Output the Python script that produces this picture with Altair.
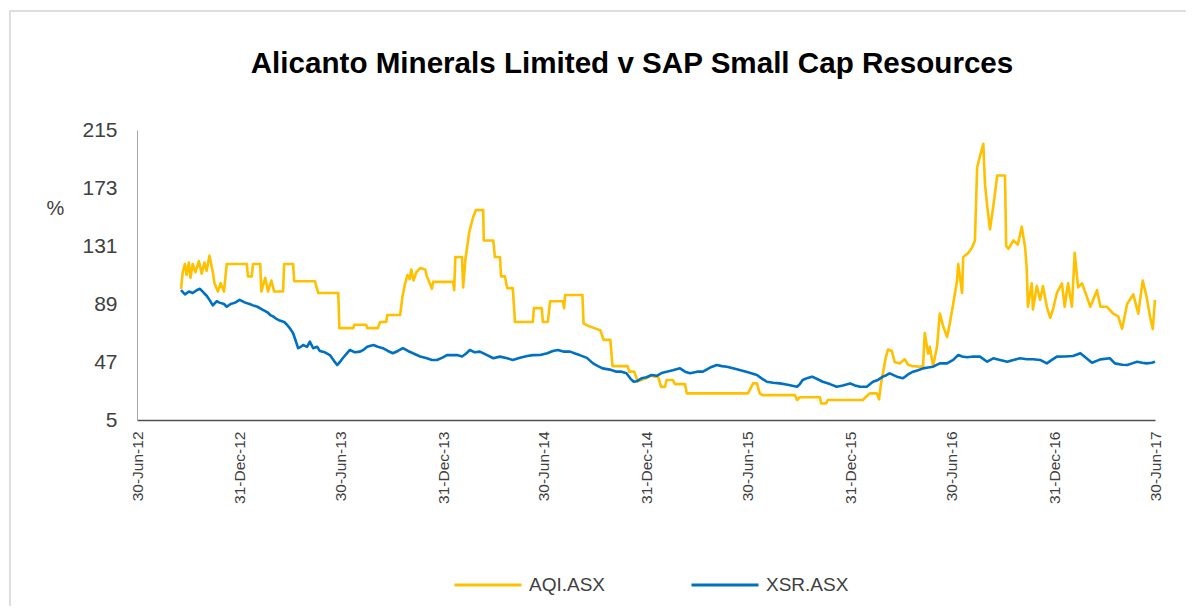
import altair as alt
import pandas as pd

title_text = "Alicanto Minerals Limited v SAP Small Cap Resources"
series_names = ["AQI.ASX", "XSR.ASX"]
series_colors = ["#FFC000", "#0070C0"]
y_ticks = [5, 47, 89, 131, 173, 215]
x_domain = ["2012-06-30", "2017-06-30"]
x_ticks = ["2012-06-30", "2012-12-31", "2013-06-30", "2013-12-31", "2014-06-30",
           "2014-12-31", "2015-06-30", "2015-12-31", "2016-06-30", "2016-12-31",
           "2017-06-30"]

aqi_points = [
    ("2012-09-17", 100), ("2012-09-20", 112), ("2012-09-24", 118), ("2012-09-27", 110),
    ("2012-10-01", 119), ("2012-10-04", 108), ("2012-10-08", 118), ("2012-10-13", 112),
    ("2012-10-19", 120), ("2012-10-24", 111), ("2012-10-29", 119), ("2012-11-02", 113),
    ("2012-11-07", 124), ("2012-11-13", 112), ("2012-11-16", 104), ("2012-11-22", 98),
    ("2012-11-27", 104), ("2012-12-03", 98), ("2012-12-08", 118),
    ("2013-01-13", 118), ("2013-01-15", 109), ("2013-01-22", 109), ("2013-01-24", 118),
    ("2013-02-06", 118), ("2013-02-08", 98), ("2013-02-15", 108), ("2013-02-20", 98),
    ("2013-02-26", 106), ("2013-03-03", 98), ("2013-03-19", 98), ("2013-03-21", 118),
    ("2013-04-06", 118), ("2013-04-08", 105.5), ("2013-05-15", 105.5), ("2013-05-21", 97),
    ("2013-06-26", 97), ("2013-06-28", 71.5), ("2013-07-23", 71.5), ("2013-07-25", 74),
    ("2013-08-15", 74), ("2013-08-17", 71.5), ("2013-09-05", 71.5), ("2013-09-09", 76),
    ("2013-09-20", 76), ("2013-09-22", 81), ("2013-10-15", 81), ("2013-10-19", 94),
    ("2013-10-24", 104), ("2013-10-28", 110), ("2013-11-01", 107), ("2013-11-04", 114),
    ("2013-11-08", 106), ("2013-11-13", 112), ("2013-11-20", 115), ("2013-11-29", 114),
    ("2013-12-02", 109), ("2013-12-11", 100), ("2013-12-13", 105),
    ("2014-01-18", 105), ("2014-01-20", 99), ("2014-01-22", 123), ("2014-02-03", 123),
    ("2014-02-05", 101), ("2014-02-09", 121), ("2014-02-16", 141), ("2014-02-23", 152),
    ("2014-02-28", 157), ("2014-03-13", 157), ("2014-03-14", 135), ("2014-03-31", 135),
    ("2014-04-03", 123), ("2014-04-12", 123), ("2014-04-14", 109), ("2014-04-21", 109),
    ("2014-04-25", 100.5), ("2014-05-05", 100.5), ("2014-05-09", 76), ("2014-06-10", 76),
    ("2014-06-12", 86), ("2014-06-26", 86), ("2014-06-28", 76), ("2014-07-07", 76),
    ("2014-07-11", 91), ("2014-08-03", 91), ("2014-08-05", 86), ("2014-08-07", 95.5),
    ("2014-09-07", 95.5), ("2014-09-09", 75), ("2014-09-18", 73), ("2014-10-02", 71),
    ("2014-10-09", 70), ("2014-10-15", 63), ("2014-10-27", 63), ("2014-10-31", 44),
    ("2014-11-27", 44), ("2014-11-30", 40), ("2014-12-09", 40), ("2014-12-15", 33),
    ("2014-12-29", 35),
    ("2015-01-07", 37), ("2015-01-21", 36), ("2015-01-26", 29), ("2015-02-02", 29),
    ("2015-02-05", 34), ("2015-02-16", 34), ("2015-02-20", 31), ("2015-03-10", 31),
    ("2015-03-13", 24.3), ("2015-07-01", 24.3), ("2015-07-10", 31.5), ("2015-07-17", 31.5),
    ("2015-07-22", 24.3), ("2015-07-27", 23), ("2015-09-23", 23), ("2015-09-27", 19.5),
    ("2015-10-02", 21.5), ("2015-11-07", 21.5), ("2015-11-09", 17), ("2015-11-18", 17),
    ("2015-11-21", 19.5),
    ("2016-01-23", 19.5), ("2016-01-29", 22), ("2016-02-05", 24.3), ("2016-02-17", 24.3),
    ("2016-02-21", 20), ("2016-02-24", 30), ("2016-02-28", 39), ("2016-03-04", 50),
    ("2016-03-08", 56), ("2016-03-15", 55), ("2016-03-20", 47), ("2016-03-29", 46),
    ("2016-04-07", 49), ("2016-04-13", 45), ("2016-04-22", 44), ("2016-05-04", 43.6),
    ("2016-05-10", 44), ("2016-05-13", 68), ("2016-05-19", 53), ("2016-05-22", 58),
    ("2016-05-28", 44), ("2016-06-04", 58), ("2016-06-09", 82), ("2016-06-15", 73),
    ("2016-06-22", 65), ("2016-06-27", 75), ("2016-07-03", 89), ("2016-07-10", 106),
    ("2016-07-12", 118), ("2016-07-19", 97), ("2016-07-21", 123), ("2016-07-30", 126),
    ("2016-08-06", 130), ("2016-08-11", 135), ("2016-08-15", 188), ("2016-08-20", 196),
    ("2016-08-26", 205), ("2016-08-29", 176), ("2016-09-02", 160), ("2016-09-07", 143),
    ("2016-09-13", 160), ("2016-09-20", 182), ("2016-10-04", 182), ("2016-10-06", 131),
    ("2016-10-10", 129), ("2016-10-19", 135), ("2016-10-27", 132), ("2016-11-03", 145),
    ("2016-11-09", 130), ("2016-11-12", 114), ("2016-11-14", 87), ("2016-11-21", 104),
    ("2016-11-23", 85), ("2016-11-30", 102), ("2016-12-06", 92), ("2016-12-11", 102),
    ("2016-12-18", 87), ("2016-12-24", 79), ("2016-12-29", 85),
    ("2017-01-05", 97), ("2017-01-14", 104), ("2017-01-19", 87), ("2017-01-25", 104),
    ("2017-02-01", 87), ("2017-02-06", 126), ("2017-02-12", 101), ("2017-02-19", 104),
    ("2017-02-28", 94), ("2017-03-06", 87), ("2017-03-18", 99), ("2017-03-24", 87),
    ("2017-04-05", 87), ("2017-04-16", 82), ("2017-04-25", 80), ("2017-05-02", 71),
    ("2017-05-11", 89), ("2017-05-22", 96), ("2017-05-31", 82), ("2017-06-08", 106),
    ("2017-06-15", 94), ("2017-06-21", 80), ("2017-06-26", 71), ("2017-06-30", 92),
]

xsr_points = [
    ("2012-09-17", 99), ("2012-09-24", 96), ("2012-10-01", 98), ("2012-10-08", 97),
    ("2012-10-15", 99), ("2012-10-21", 100), ("2012-10-28", 97), ("2012-11-02", 95),
    ("2012-11-07", 92), ("2012-11-13", 88), ("2012-11-20", 91), ("2012-11-25", 90),
    ("2012-12-03", 89), ("2012-12-08", 87), ("2012-12-15", 89), ("2012-12-23", 90),
    ("2012-12-31", 92),
    ("2013-01-10", 90), ("2013-01-18", 89), ("2013-01-24", 88), ("2013-02-01", 87),
    ("2013-02-10", 85), ("2013-02-19", 83), ("2013-02-24", 81), ("2013-03-01", 80),
    ("2013-03-08", 78), ("2013-03-13", 77), ("2013-03-21", 76), ("2013-03-26", 74),
    ("2013-04-01", 71), ("2013-04-06", 67.8), ("2013-04-11", 62), ("2013-04-15", 57),
    ("2013-04-20", 58), ("2013-04-24", 59.3), ("2013-05-01", 58), ("2013-05-06", 61.7),
    ("2013-05-12", 57), ("2013-05-19", 58), ("2013-05-24", 55), ("2013-06-02", 54),
    ("2013-06-11", 52), ("2013-06-18", 48), ("2013-06-24", 44.8), ("2013-06-29", 47),
    ("2013-07-04", 49.7), ("2013-07-11", 53), ("2013-07-17", 55.7), ("2013-07-26", 54),
    ("2013-08-04", 54.5), ("2013-08-11", 56), ("2013-08-17", 58), ("2013-08-28", 59.3),
    ("2013-09-05", 58), ("2013-09-14", 57), ("2013-09-23", 55), ("2013-10-02", 53.3),
    ("2013-10-11", 55), ("2013-10-20", 57), ("2013-10-29", 55), ("2013-11-07", 53.3),
    ("2013-11-20", 51), ("2013-12-02", 49.7), ("2013-12-11", 48.5), ("2013-12-20", 48.5),
    ("2013-12-29", 50),
    ("2014-01-07", 52), ("2014-01-16", 52), ("2014-01-25", 52), ("2014-02-03", 51),
    ("2014-02-10", 53), ("2014-02-17", 55.7), ("2014-02-26", 54), ("2014-03-07", 54.5),
    ("2014-03-20", 52), ("2014-03-31", 49.7), ("2014-04-12", 50.9), ("2014-04-25", 49.7),
    ("2014-05-05", 48.5), ("2014-05-18", 50), ("2014-05-31", 51.3), ("2014-06-10", 52),
    ("2014-06-23", 52.1), ("2014-07-06", 53.3), ("2014-07-16", 55), ("2014-07-25", 55.7),
    ("2014-08-05", 54.5), ("2014-08-16", 54.5), ("2014-08-26", 53), ("2014-09-02", 52),
    ("2014-09-15", 50), ("2014-09-26", 46), ("2014-10-05", 44), ("2014-10-13", 42.4),
    ("2014-10-26", 41.5), ("2014-11-07", 40), ("2014-11-16", 40), ("2014-11-25", 38.8),
    ("2014-12-02", 35), ("2014-12-08", 32.7), ("2014-12-13", 33), ("2014-12-22", 35.2),
    ("2014-12-31", 36),
    ("2015-01-09", 37.6), ("2015-01-18", 37), ("2015-01-27", 39), ("2015-02-05", 40),
    ("2015-02-16", 41), ("2015-03-01", 42.4), ("2015-03-10", 40), ("2015-03-19", 38.8),
    ("2015-04-01", 40), ("2015-04-11", 40), ("2015-04-24", 43), ("2015-05-06", 44.8),
    ("2015-05-15", 44), ("2015-05-24", 43.6), ("2015-06-04", 42.5), ("2015-06-16", 41.2),
    ("2015-07-01", 39.5), ("2015-07-17", 37.6), ("2015-07-26", 35), ("2015-08-04", 32.7),
    ("2015-08-15", 32), ("2015-08-27", 31.5), ("2015-09-10", 30.5), ("2015-09-27", 29.1),
    ("2015-10-02", 31), ("2015-10-07", 34), ("2015-10-16", 35.5), ("2015-10-24", 36.4),
    ("2015-11-03", 34.5), ("2015-11-12", 32.7), ("2015-11-25", 31), ("2015-12-07", 29.1),
    ("2015-12-18", 30), ("2015-12-31", 31.5),
    ("2016-01-09", 30), ("2016-01-18", 29.1), ("2016-01-30", 29.1), ("2016-02-10", 32.7),
    ("2016-02-19", 34), ("2016-02-28", 36.4), ("2016-03-06", 37.6), ("2016-03-11", 38.8),
    ("2016-03-24", 36.4), ("2016-04-04", 35.2), ("2016-04-13", 38), ("2016-04-22", 40),
    ("2016-05-01", 41), ("2016-05-10", 42.4), ("2016-05-19", 43), ("2016-05-28", 43.6),
    ("2016-06-09", 46), ("2016-06-22", 46), ("2016-07-03", 48.5), ("2016-07-12", 52.1),
    ("2016-07-19", 51), ("2016-07-28", 50.4), ("2016-08-08", 51), ("2016-08-20", 50.9),
    ("2016-09-02", 47.2), ("2016-09-13", 49.7), ("2016-09-25", 48.5), ("2016-10-08", 47.2),
    ("2016-10-19", 48.5), ("2016-10-31", 49.7), ("2016-11-12", 49), ("2016-11-23", 49),
    ("2016-12-06", 48.5), ("2016-12-18", 46), ("2016-12-27", 48.5),
    ("2017-01-05", 50.9), ("2017-01-19", 51), ("2017-02-03", 51.3), ("2017-02-16", 53.3),
    ("2017-02-26", 50), ("2017-03-09", 46.5), ("2017-03-24", 48.9), ("2017-04-10", 49.7),
    ("2017-04-19", 46), ("2017-05-02", 45), ("2017-05-11", 44.8), ("2017-05-20", 46),
    ("2017-05-29", 47.2), ("2017-06-07", 46.5), ("2017-06-15", 46), ("2017-06-24", 46.5),
    ("2017-06-30", 47.2),
]

rows = []
for name, pts in zip(series_names, [aqi_points, xsr_points]):
    for d, v in pts:
        rows.append({"date": d, "value": v, "series": name})
df = pd.DataFrame(rows)


def ms(d):
    return int(pd.Timestamp(d, tz="UTC").value // 10**6)


FONT = "Liberation Sans"
LABEL = "#404040"

lines = alt.Chart(df).mark_line(strokeWidth=2.6, strokeJoin="round").encode(
    x=alt.X(
        "date:T",
        scale=alt.Scale(type="utc", domain=[ms(d) for d in x_domain]),
        axis=alt.Axis(
            values=[ms(d) for d in x_ticks],
            labelExpr="utcFormat(datum.value, '%d-%b-%y')",
            labelAngle=-90,
            labelFontSize=15.5,
            labelFont=FONT,
            labelColor=LABEL,
            labelPadding=11,
            ticks=False,
            tickSize=0,
            grid=False,
            domainColor="#505050",
            domainWidth=1.5,
            labelOverlap=False,
            title=None,
        ),
    ),
    y=alt.Y(
        "value:Q",
        scale=alt.Scale(domain=[5, 215], nice=False, zero=False),
        axis=alt.Axis(
            values=y_ticks,
            ticks=False,
            tickSize=0,
            grid=False,
            labelFontSize=21,
            labelFont=FONT,
            labelColor=LABEL,
            labelPadding=20,
            domainColor="#a6a6a6",
            domainWidth=1,
            title="%",
            titleAngle=0,
            titleX=-82,
            titleY=78,
            titleFontSize=20,
            titleFont=FONT,
            titleFontWeight="normal",
            titleColor=LABEL,
            titleAlign="center",
            titleBaseline="middle",
        ),
    ),
    color=alt.Color(
        "series:N",
        scale=alt.Scale(domain=series_names, range=series_colors),
        legend=alt.Legend(
            orient="none",
            legendX=316,
            legendY=420,
            direction="horizontal",
            title=None,
            symbolType="stroke",
            symbolSize=4489,
            symbolStrokeWidth=3,
            labelFontSize=19,
            labelFont=FONT,
            labelColor=LABEL,
            labelOffset=6,
            columnPadding=79,
            padding=0,
        ),
    ),
)

border = alt.Chart(pd.DataFrame({"k": [0]})).mark_rect(
    fillOpacity=0, stroke="#d4d4d4", strokeWidth=1.5
).encode(
    x=alt.value(-127), x2=alt.value(1200), y=alt.value(-119), y2=alt.value(600)
)

title = alt.Chart(pd.DataFrame({"t": [title_text]})).mark_text(
    font=FONT, fontSize=29.6, fontWeight="bold", color="#000000",
    align="center", baseline="alphabetic"
).encode(
    text="t:N", x=alt.value(495), y=alt.value(-57)
)

chart = alt.layer(border, title, lines).properties(
    width=1018,
    height=290,
    padding={"left": 129, "top": 122, "right": 31, "bottom": 186},
    autosize=alt.AutoSizeParams(type="none"),
).configure_view(stroke=None)

chart.save("out.html", embed_options={"renderer": "svg", "actions": False})
